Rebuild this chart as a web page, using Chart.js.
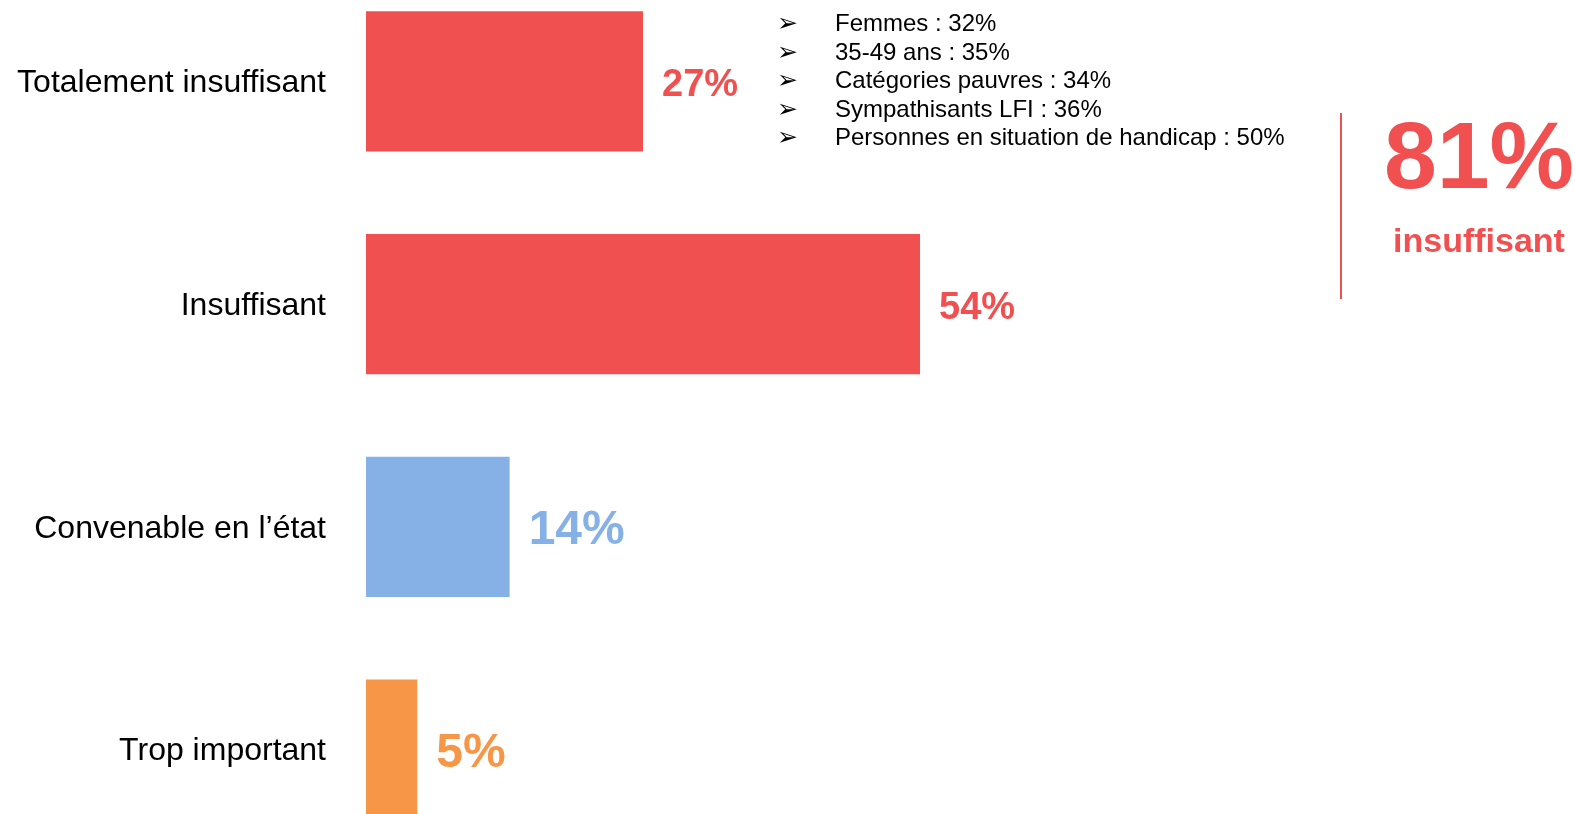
<!DOCTYPE html>
<html>
<head>
<meta charset="utf-8">
<script src="https://cdn.jsdelivr.net/npm/chart.js@4/dist/chart.umd.min.js"></script>
<style>
  html, body { margin: 0; padding: 0; background: #fff; overflow: hidden; width: 1575px; height: 814px; }
  body { font-family: "Liberation Sans", Arial, sans-serif; position: relative; }
  #wrap { position: absolute; left: 0; top: -30px; width: 1575px; height: 891px; }
  #bullets { position: absolute; left: 0; top: 9px; font-size: 24px; line-height: 28.5px; color: #000; }
  #bullets .row { position: relative; height: 28.5px; }
  #bullets .arrow { position: absolute; left: 777px; font-family: "DejaVu Sans", sans-serif; font-size: 25px; font-weight: bold; }
  #bullets .txt { position: absolute; left: 835px; white-space: nowrap; }
  #sep { position: absolute; left: 1340px; top: 113px; width: 2px; height: 186px; background: #F05050; }
  #total { position: absolute; left: 1374px; width: 210px; text-align: center; color: #F05050; font-weight: bold; line-height: 1; white-space: nowrap; }
  #total .big { position: absolute; left: 0; right: 0; top: 108px; font-size: 95px; }
  #total .small { position: absolute; left: 0; right: 0; top: 223px; font-size: 34px; }
</style>
</head>
<body>
<div id="wrap"><canvas id="chart"></canvas></div>
<div id="bullets"></div>
<div id="sep"></div>
<div id="total"><div class="big"></div><div class="small"></div></div>
<script>
// data
const categories = ['Totalement insuffisant', 'Insuffisant', 'Convenable en l\u2019\u00e9tat', 'Trop important'];
const values = [27, 54, 14, 5];
const subgroups = ['Femmes : 32%', '35-49 ans : 35%', 'Cat\u00e9gories pauvres : 34%', 'Sympathisants LFI : 36%', 'Personnes en situation de handicap : 50%'];
const totalLabel = '81%';
const totalText = 'insuffisant';

// styles
const barColors = ['#F05050', '#F05050', '#86B1E6', '#F79646'];
const labelSizes = [38, 38, 48, 48];
const FONT = '"Liberation Sans", Arial, sans-serif';

const valueLabels = {
  id: 'valueLabels',
  afterDatasetsDraw(chart) {
    const ctx = chart.ctx;
    const meta = chart.getDatasetMeta(0);
    ctx.save();
    ctx.textBaseline = 'middle';
    ctx.textAlign = 'left';
    meta.data.forEach((bar, i) => {
      ctx.font = `bold ${labelSizes[i]}px ${FONT}`;
      ctx.fillStyle = barColors[i];
      ctx.fillText(values[i] + '%', bar.x + 19, bar.y + 4);
    });
    ctx.restore();
  }
};

new Chart(document.getElementById('chart'), {
  type: 'bar',
  data: {
    labels: categories,
    datasets: [{
      data: values,
      backgroundColor: barColors,
      borderWidth: 0,
      barPercentage: 0.63,
      categoryPercentage: 1
    }]
  },
  options: {
    indexAxis: 'y',
    responsive: true,
    maintainAspectRatio: false,
    animation: false,
    layout: { padding: { left: 0, right: 183, top: 0, bottom: 0 } },
    plugins: { legend: { display: false }, tooltip: { enabled: false } },
    scales: {
      x: { display: false, min: 0, max: 100 },
      y: {
        grid: { display: false, drawTicks: false },
        border: { display: false },
        ticks: { padding: 40, labelOffset: 2, color: '#000', font: { size: 32, family: FONT } },
        afterFit(axis) {
          axis.width = 366;
          // categories are offset, so no room is needed for the end labels
          axis.paddingTop = 0;
          axis.paddingBottom = 0;
        }
      }
    }
  },
  plugins: [valueLabels]
});

// side notes
document.getElementById('bullets').innerHTML = subgroups.map(s =>
  `<div class="row"><span class="arrow">\u27A2</span><span class="txt">${s}</span></div>`).join('');
document.querySelector('#total .big').textContent = totalLabel;
document.querySelector('#total .small').textContent = totalText;
</script>
</body>
</html>
